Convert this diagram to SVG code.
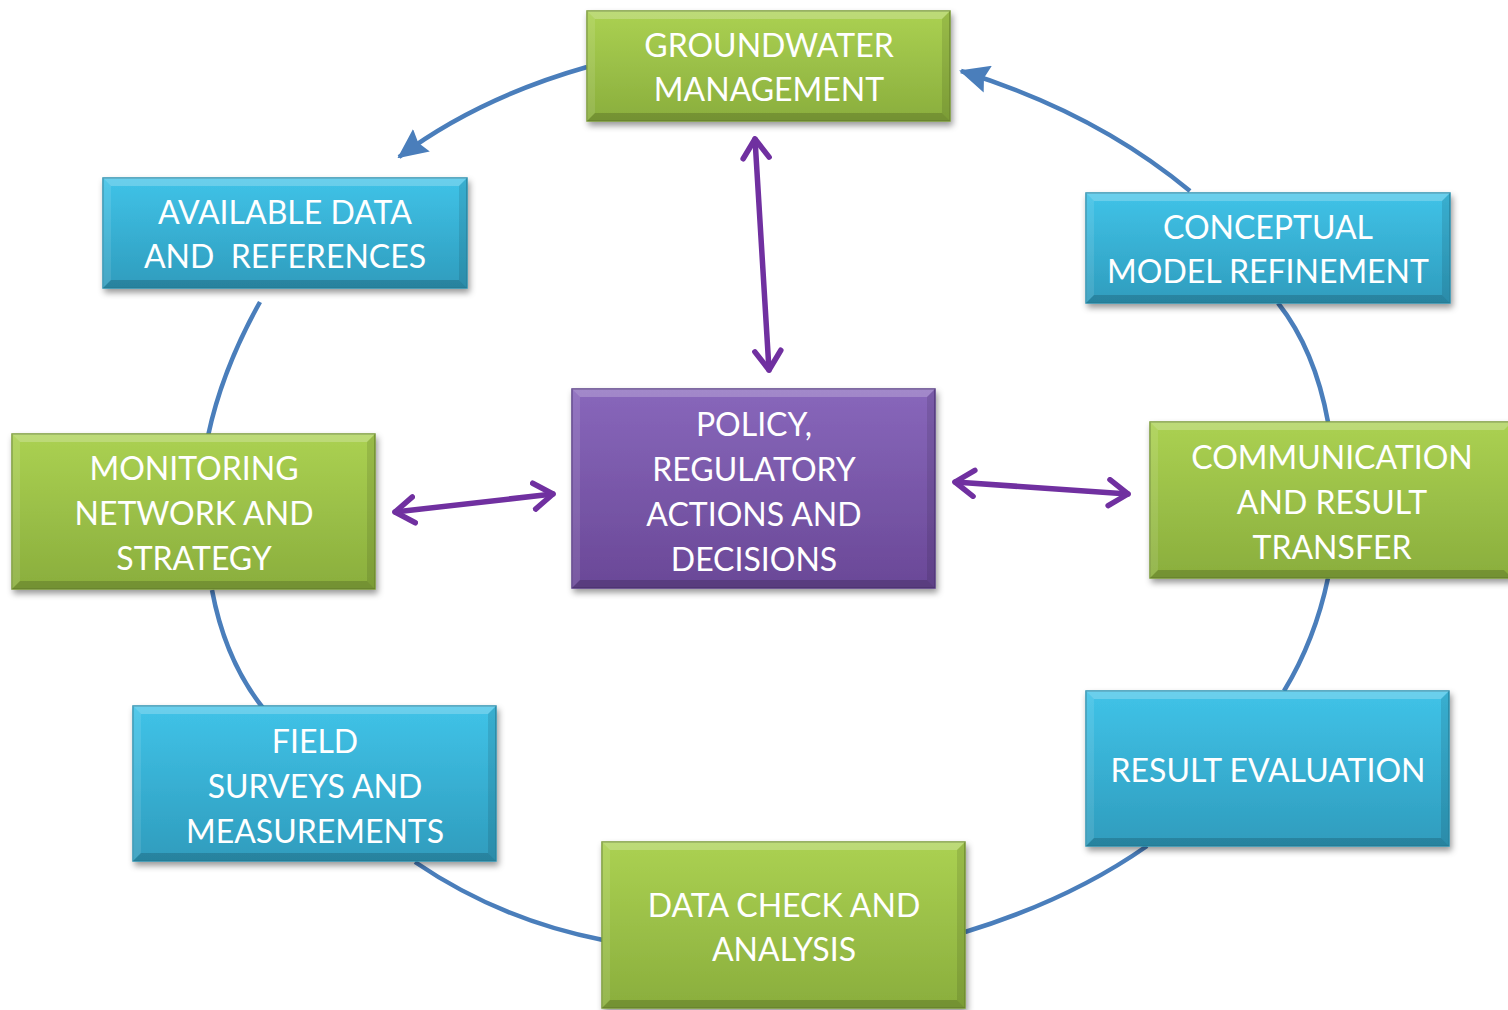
<svg xmlns="http://www.w3.org/2000/svg" width="1508" height="1010" viewBox="0 0 1508 1010">
<style>
.lbl{font-family:Lato,"Liberation Sans",sans-serif;font-size:32px;fill:#fff;text-anchor:middle}
.g{fill:url(#gGreen);stroke:#7b9a36;stroke-width:1.5}
.b{fill:url(#gBlue);stroke:#2f93b1;stroke-width:1.5}
.p{fill:url(#gPurple);stroke:#5a3d86;stroke-width:1.5}
.bt{fill:#fff;fill-opacity:0.22}
.bl{fill:#fff;fill-opacity:0.1}
.bb{fill:#000;fill-opacity:0.16}
.br{fill:#000;fill-opacity:0.1}
.cyc{fill:none;stroke:#4a7ebb;stroke-width:4.5}
.pol{fill:none;stroke:#7030a0;stroke-width:5.5;stroke-linecap:round}
</style>
<defs>
<linearGradient id="gGreen" x1="0" y1="0" x2="0" y2="1"><stop offset="0" stop-color="#abd152"/><stop offset="1" stop-color="#8aae3d"/></linearGradient>
<linearGradient id="gBlue" x1="0" y1="0" x2="0" y2="1"><stop offset="0" stop-color="#40c3e8"/><stop offset="1" stop-color="#2f9cbd"/></linearGradient>
<linearGradient id="gPurple" x1="0" y1="0" x2="0" y2="1"><stop offset="0" stop-color="#8867bb"/><stop offset="1" stop-color="#6a4897"/></linearGradient>
<filter id="sh" x="-10%" y="-10%" width="125%" height="130%"><feDropShadow dx="2" dy="4" stdDeviation="3" flood-color="#000" flood-opacity="0.4"/></filter>
<marker id="bArrow" markerUnits="userSpaceOnUse" viewBox="0 0 30 28" refX="28" refY="14" markerWidth="30" markerHeight="28" orient="auto"><path d="M0,0 L30,14 L0,28 L4,14 Z" fill="#4a7ebb"/></marker>
<marker id="pArrow" markerUnits="userSpaceOnUse" viewBox="0 0 26 32" refX="22" refY="16" markerWidth="26" markerHeight="32" orient="auto-start-reverse"><path d="M3,3 L22,16 L3,29" fill="none" stroke="#7030a0" stroke-width="5.5" stroke-linecap="round" stroke-linejoin="round"/></marker>
</defs>
<rect width="1508" height="1010" fill="#fff"/>
<g id="connectors">
<path class="cyc" d="M587,67 Q478,98 399,157" marker-end="url(#bArrow)"/>
<path class="cyc" d="M1190,191 Q1095,112 961,71" marker-end="url(#bArrow)"/>
<path class="cyc" d="M260,302 Q222,370 208,436"/>
<path class="cyc" d="M212,590 Q225,660 263,708"/>
<path class="cyc" d="M415,862 Q500,920 603,940"/>
<path class="cyc" d="M965,932 Q1070,900 1147,846"/>
<path class="cyc" d="M1284,691 Q1315,640 1328,578"/>
<path class="cyc" d="M1328,422 Q1315,350 1278,303"/>
<path class="pol" d="M755,139 L769,370" marker-start="url(#pArrow)" marker-end="url(#pArrow)"/>
<path class="pol" d="M395,512 L553,494" marker-start="url(#pArrow)" marker-end="url(#pArrow)"/>
<path class="pol" d="M955,482 L1128,494" marker-start="url(#pArrow)" marker-end="url(#pArrow)"/>
</g>
<g id="groundwater-management">
<rect class="g" x="587" y="11" width="363" height="110" filter="url(#sh)"/>
<path class="bt" d="M587,11 L950,11 L942,19 L595,19 Z"/><path class="bl" d="M587,11 L595,19 L595,113 L587,121 Z"/><path class="bb" d="M587,121 L950,121 L942,113 L595,113 Z"/><path class="br" d="M950,11 L942,19 L942,113 L950,121 Z"/>
<text class="lbl" x="769" y="57">GROUNDWATER</text><text class="lbl" x="769" y="101">MANAGEMENT</text>
</g>
<g id="available-data">
<rect class="b" x="103" y="178" width="364" height="110" filter="url(#sh)"/>
<path class="bt" d="M103,178 L467,178 L459,186 L111,186 Z"/><path class="bl" d="M103,178 L111,186 L111,280 L103,288 Z"/><path class="bb" d="M103,288 L467,288 L459,280 L111,280 Z"/><path class="br" d="M467,178 L459,186 L459,280 L467,288 Z"/>
<text class="lbl" x="285" y="224">AVAILABLE DATA</text><text class="lbl" x="285" y="268" style="white-space:pre">AND  REFERENCES</text>
</g>
<g id="conceptual-model">
<rect class="b" x="1086" y="193" width="364" height="110" filter="url(#sh)"/>
<path class="bt" d="M1086,193 L1450,193 L1442,201 L1094,201 Z"/><path class="bl" d="M1086,193 L1094,201 L1094,295 L1086,303 Z"/><path class="bb" d="M1086,303 L1450,303 L1442,295 L1094,295 Z"/><path class="br" d="M1450,193 L1442,201 L1442,295 L1450,303 Z"/>
<text class="lbl" x="1268" y="239">CONCEPTUAL</text><text class="lbl" x="1268" y="283">MODEL REFINEMENT</text>
</g>
<g id="monitoring">
<rect class="g" x="12" y="434" width="363" height="155" filter="url(#sh)"/>
<path class="bt" d="M12,434 L375,434 L367,442 L20,442 Z"/><path class="bl" d="M12,434 L20,442 L20,581 L12,589 Z"/><path class="bb" d="M12,589 L375,589 L367,581 L20,581 Z"/><path class="br" d="M375,434 L367,442 L367,581 L375,589 Z"/>
<text class="lbl" x="194" y="480">MONITORING</text><text class="lbl" x="194" y="525">NETWORK AND</text><text class="lbl" x="194" y="570">STRATEGY</text>
</g>
<g id="policy">
<rect class="p" x="572" y="389" width="363" height="199" filter="url(#sh)"/>
<path class="bt" d="M572,389 L935,389 L927,397 L580,397 Z"/><path class="bl" d="M572,389 L580,397 L580,580 L572,588 Z"/><path class="bb" d="M572,588 L935,588 L927,580 L580,580 Z"/><path class="br" d="M935,389 L927,397 L927,580 L935,588 Z"/>
<text class="lbl" x="754" y="436">POLICY,</text><text class="lbl" x="754" y="481">REGULATORY</text><text class="lbl" x="754" y="526">ACTIONS AND</text><text class="lbl" x="754" y="571">DECISIONS</text>
</g>
<g id="communication">
<rect class="g" x="1150" y="422" width="362" height="156" filter="url(#sh)"/>
<path class="bt" d="M1150,422 L1512,422 L1504,430 L1158,430 Z"/><path class="bl" d="M1150,422 L1158,430 L1158,570 L1150,578 Z"/><path class="bb" d="M1150,578 L1512,578 L1504,570 L1158,570 Z"/>
<text class="lbl" x="1332" y="469">COMMUNICATION</text><text class="lbl" x="1332" y="514">AND RESULT</text><text class="lbl" x="1332" y="559">TRANSFER</text>
</g>
<g id="field-surveys">
<rect class="b" x="133" y="706" width="363" height="155" filter="url(#sh)"/>
<path class="bt" d="M133,706 L496,706 L488,714 L141,714 Z"/><path class="bl" d="M133,706 L141,714 L141,853 L133,861 Z"/><path class="bb" d="M133,861 L496,861 L488,853 L141,853 Z"/><path class="br" d="M496,706 L488,714 L488,853 L496,861 Z"/>
<text class="lbl" x="315" y="753">FIELD</text><text class="lbl" x="315" y="798">SURVEYS AND</text><text class="lbl" x="315" y="843">MEASUREMENTS</text>
</g>
<g id="result-evaluation">
<rect class="b" x="1086" y="691" width="363" height="155" filter="url(#sh)"/>
<path class="bt" d="M1086,691 L1449,691 L1441,699 L1094,699 Z"/><path class="bl" d="M1086,691 L1094,699 L1094,838 L1086,846 Z"/><path class="bb" d="M1086,846 L1449,846 L1441,838 L1094,838 Z"/><path class="br" d="M1449,691 L1441,699 L1441,838 L1449,846 Z"/>
<text class="lbl" x="1268" y="782">RESULT EVALUATION</text>
</g>
<g id="data-check">
<rect class="g" x="602" y="842" width="363" height="166" filter="url(#sh)"/>
<path class="bt" d="M602,842 L965,842 L957,850 L610,850 Z"/><path class="bl" d="M602,842 L610,850 L610,1000 L602,1008 Z"/><path class="bb" d="M602,1008 L965,1008 L957,1000 L610,1000 Z"/><path class="br" d="M965,842 L957,850 L957,1000 L965,1008 Z"/>
<text class="lbl" x="784" y="917">DATA CHECK AND</text><text class="lbl" x="784" y="961">ANALYSIS</text>
</g>
</svg>
